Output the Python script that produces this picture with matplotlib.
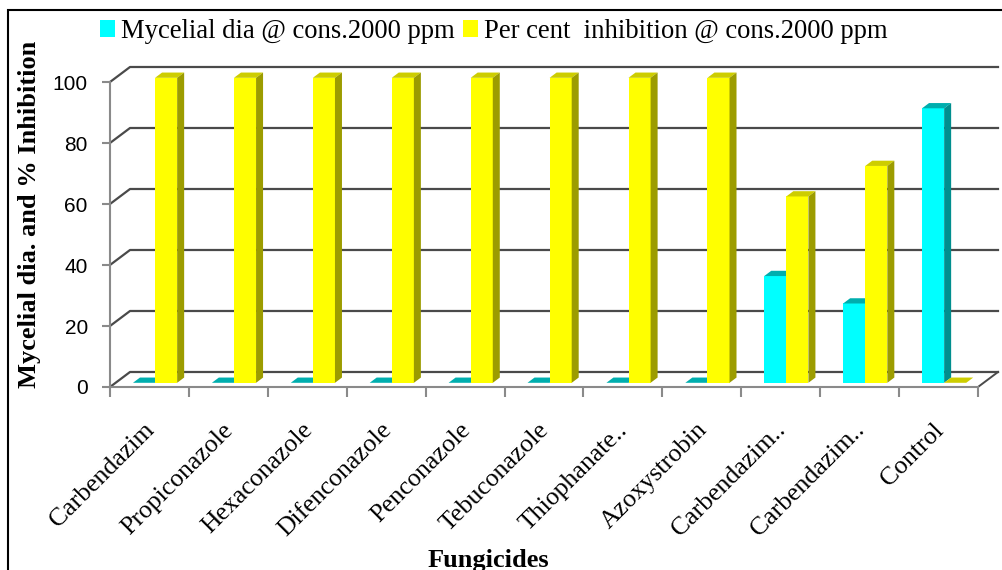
import matplotlib
matplotlib.use("Agg")
import matplotlib.pyplot as plt
from matplotlib.patches import Polygon, Rectangle

# ---- data -------------------------------------------------------------
fungicides = ["Carbendazim", "Propiconazole", "Hexaconazole", "Difenconazole",
              "Penconazole", "Tebuconazole", "Thiophanate..", "Azoxystrobin",
              "Carbendazim..", "Carbendazim..", "Control"]
mycelial_dia = [0, 0, 0, 0, 0, 0, 0, 0, 35, 26, 90]
per_cent_inhibition = [100, 100, 100, 100, 100, 100, 100, 100, 61.1, 71.1, 0]
series_names = ["Mycelial dia @ cons.2000 ppm",
                "Per cent  inhibition @ cons.2000 ppm"]
y_ticks = [0, 20, 40, 60, 80, 100]

# ---- styling ----------------------------------------------------------
SERIF = "Liberation Serif"
SANS = "Liberation Sans"
face_colors = [("#00FFFF", "#00AEAE", "#008E8E"),   # front, top, side
               ("#FFFF00", "#CDCD00", "#9C9C00")]
GRID = "#4a4a4a"
AXIS = "#8a8a8a"

# pseudo-3D depth of the floor, in data units (x: categories, y: values)
DEPTH_X, DEPTH_Y = 0.2535, 4.92
BAR_FRONT = 0.28      # fraction of the floor depth where bar fronts sit
BAR_DEPTH = 0.35      # fraction of the floor depth a bar occupies
BAR_W = 0.28
GROUP_START = 0.22

n = len(fungicides)
W, H = 1002, 570
fig = plt.figure(figsize=(W / 100, H / 100), dpi=100)
fig.patch.set_facecolor("white")
ax = fig.add_axes([110 / W, (H - 387) / H, 888 / W, 320 / H])
ax.set_xlim(0, n + DEPTH_X)
ax.set_ylim(0, y_ticks[-1] + DEPTH_Y)
ax.set_facecolor("none")

for side in ("top", "right"):
    ax.spines[side].set_visible(False)
ax.spines["left"].set_bounds(0, y_ticks[-1])
ax.spines["bottom"].set_bounds(0, n)
for side in ("left", "bottom"):
    ax.spines[side].set_color(AXIS)
    ax.spines[side].set_linewidth(1.5)

# back wall gridlines with their diagonal on the side wall
for v in y_ticks:
    ax.plot([0, DEPTH_X, n + DEPTH_X], [v, v + DEPTH_Y, v + DEPTH_Y],
            color=GRID, lw=1.6, zorder=1, clip_on=False)
# right edge of the floor
ax.plot([n, n + DEPTH_X], [0, DEPTH_Y], color=GRID, lw=1.4, zorder=1,
        clip_on=False)

# y axis
ax.set_yticks(y_ticks)
ax.set_yticklabels([str(v) for v in y_ticks], fontsize=15, family=SANS)
ax.tick_params(axis="y", length=6, width=1.5, color=AXIS, pad=10)

# x axis: boundary tick marks and slanted category names
ax.set_xticks(range(n + 1), minor=True)
ax.set_xticks([i + 0.62 for i in range(n)])
ax.set_xticklabels(fungicides, rotation=45, ha="right", va="top",
                   fontsize=18.5, family=SERIF)
ax.tick_params(axis="x", which="major", length=0, pad=23)
ax.tick_params(axis="x", which="minor", length=7, width=1.5, color=AXIS)

# bars: front faces via ax.bar, top and side faces as polygons
bdx, bdy = BAR_DEPTH * DEPTH_X, BAR_DEPTH * DEPTH_Y
fx, fy = BAR_FRONT * DEPTH_X, BAR_FRONT * DEPTH_Y
handles = []
for s, values in enumerate([mycelial_dia, per_cent_inhibition]):
    front_c, top_c, side_c = face_colors[s]
    xs = [i + GROUP_START + s * BAR_W + fx for i in range(n)]
    bars = ax.bar(xs, values, width=BAR_W, bottom=fy, align="edge",
                  color=front_c, linewidth=0, label=series_names[s])
    handles.append(bars)
    for i, rect in enumerate(bars.patches):
        z = 3 + 2 * i + s
        rect.set_zorder(z)
        x, y = rect.get_x(), rect.get_y()
        w, h = rect.get_width(), rect.get_height()
        top = Polygon([(x, y + h), (x + w, y + h),
                       (x + w + bdx, y + h + bdy), (x + bdx, y + h + bdy)],
                      closed=True, facecolor=top_c, edgecolor="none", zorder=z)
        side_face = Polygon([(x + w, y), (x + w + bdx, y + bdy),
                             (x + w + bdx, y + h + bdy), (x + w, y + h)],
                            closed=True, facecolor=side_c, edgecolor="none",
                            zorder=z)
        ax.add_patch(top)
        ax.add_patch(side_face)

# legend across the top
fig.legend(handles=handles, labels=series_names, loc="upper left",
           bbox_to_anchor=(100 / W, 1 - 19 / H), ncol=2, frameon=False,
           prop={"family": SERIF, "size": 19.2}, handlelength=0.55,
           handleheight=0.6, handletextpad=0.25, columnspacing=0.3,
           borderpad=0, borderaxespad=0)

# axis titles
fig.text(30 / W, 1 - 214 / H, "Mycelial dia. and % Inhibition", rotation=90,
         ha="center", va="center", fontsize=19, fontweight="bold",
         family=SERIF)
fig.text(488 / W, 3 / H, "Fungicides", ha="center", va="baseline",
         fontsize=19, fontweight="bold", family=SERIF)

# frame around the figure
fig.patches.append(Rectangle((8 / W, -0.1), 1.2, 1.1 - 10 / H,
                             transform=fig.transFigure, fill=False,
                             edgecolor="black", linewidth=1.5))

fig.savefig("out.png", dpi=100, facecolor="white")
